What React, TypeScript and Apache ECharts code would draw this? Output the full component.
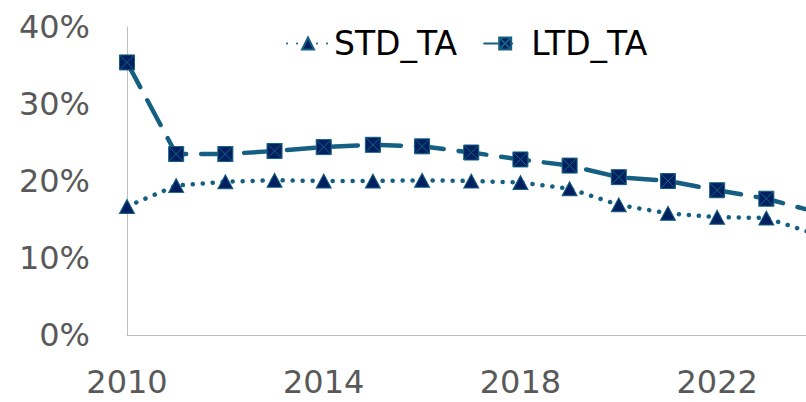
import React, { useEffect, useRef } from "react";
import * as echarts from "echarts";

const years = ["2010", "2011", "2012", "2013", "2014", "2015", "2016", "2017", "2018", "2019", "2020", "2021", "2022", "2023", "2024"];
const stdTA = [16.7, 19.4, 19.9, 20.1, 20.0, 20.0, 20.1, 20.0, 19.8, 19.0, 16.9, 15.8, 15.3, 15.2, 13.1];
const ltdTA = [35.4, 23.5, 23.5, 23.9, 24.4, 24.7, 24.5, 23.7, 22.8, 22.0, 20.5, 20.0, 18.8, 17.7, 16.0];

const LINE = "#156082";
const MARK = "#002060";
const FONT = "DejaVu Sans";
const squareX = "path://M0 0H10V10H0Z M0 0L10 10 M10 0L0 10";

export default function App() {
  const ref = useRef<HTMLDivElement>(null);
  useEffect(() => {
    if (!ref.current) return;
    const chart = echarts.init(ref.current, null, { renderer: "svg" });
    chart.setOption({
      animation: false,
      backgroundColor: "#ffffff",
      grid: { left: 127, top: 27, bottom: 67, right: 4.5 },
      legend: {
        left: 281,
        top: 22,
        itemWidth: 42,
        itemHeight: 15,
        itemGap: 26,
        textStyle: { fontFamily: FONT, fontSize: 33, color: "#000000", padding: [0, 0, 0, 0] },
        data: ["STD_TA", "LTD_TA"],
      },
      xAxis: {
        type: "category",
        data: years,
        boundaryGap: false,
        axisLine: { show: true, lineStyle: { color: "#BFBFBF", width: 1 } },
        axisTick: { show: false },
        splitLine: { show: false },
        axisLabel: {
          interval: 3,
          fontFamily: FONT,
          fontSize: 32,
          color: "#595959",
          margin: 31,
        },
      },
      yAxis: {
        type: "value",
        min: 0,
        max: 40,
        interval: 10,
        axisLine: { show: true, lineStyle: { color: "#BFBFBF", width: 1 } },
        axisTick: { show: false },
        splitLine: { show: false },
        axisLabel: {
          formatter: (v: number) => `${v}%`,
          fontFamily: FONT,
          fontSize: 32,
          color: "#595959",
          margin: 37,
        },
      },
      series: [
        {
          name: "STD_TA",
          type: "line",
          data: stdTA,
          symbol: "triangle",
          symbolSize: [15, 14],
          showAllSymbol: true,
          lineStyle: { color: LINE, width: 4.5, type: [0.1, 9.9], cap: "round" },
          itemStyle: { color: MARK, borderColor: LINE, borderWidth: 1 },
          z: 2,
        },
        {
          name: "LTD_TA",
          type: "line",
          data: ltdTA,
          symbol: squareX,
          symbolSize: 15,
          showAllSymbol: true,
          lineStyle: { color: LINE, width: 4.5, type: [28, 15], cap: "round" },
          itemStyle: { color: MARK, borderColor: LINE, borderWidth: 1 },
          z: 3,
        },
      ],
    });
    return () => chart.dispose();
  }, []);
  return (
    <div style={{ position: "absolute", left: 0, top: 0, width: 806, height: 402, overflow: "hidden", background: "#fff" }}>
      <div ref={ref} style={{ width: 820, height: 402 }} />
    </div>
  );
}
